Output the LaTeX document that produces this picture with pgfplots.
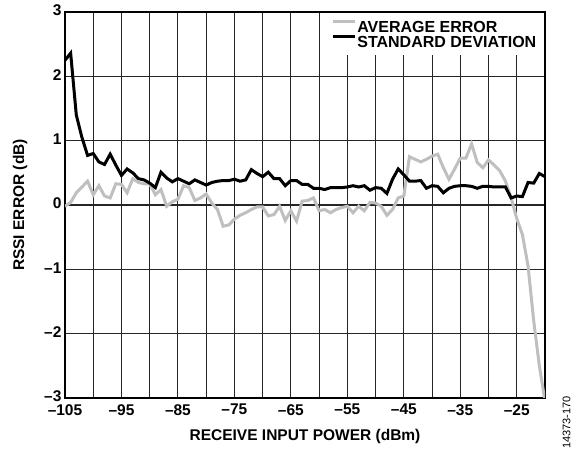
\documentclass[border=0pt]{standalone}
\usepackage{fontspec}
\setmainfont{Liberation Sans}
\usepackage{pgfplots}
\pgfplotsset{compat=1.18}
\definecolor{avgc}{RGB}{191,191,191}
\pgfplotstableread{
x y
-105 -0.02
-104 0.04
-103 0.19
-102 0.28
-101 0.37
-100 0.16
-99 0.30
-98 0.14
-97 0.11
-96 0.33
-95 0.32
-94 0.19
-93 0.41
-92 0.35
-91 0.33
-90 0.33
-89 0.16
-88 0.24
-87 -0.02
-86 0.05
-85 0.09
-84 0.30
-83 0.27
-82 0.07
-81 0.11
-80 0.17
-79 0.03
-78 -0.07
-77 -0.33
-76 -0.31
-75 -0.22
-74 -0.16
-73 -0.12
-72 -0.07
-71 -0.03
-70 -0.03
-69 -0.17
-68 -0.15
-67 -0.02
-66 -0.24
-65 -0.09
-64 -0.25
-63 0.06
-62 0.07
-61 0.11
-60 -0.09
-59 -0.07
-58 -0.12
-57 -0.07
-56 -0.04
-55 -0.02
-54 -0.12
-53 -0.02
-52 -0.09
-51 0.04
-50 0.03
-49 -0.02
-48 -0.16
-47 -0.07
-46 0.11
-45 0.14
-44 0.75
-43 0.71
-42 0.67
-41 0.71
-40 0.76
-39 0.79
-38 0.58
-37 0.40
-36 0.56
-35 0.73
-34 0.73
-33 0.95
-32 0.66
-31 0.58
-30 0.70
-29 0.62
-28 0.53
-27 0.37
-26 0.11
-25 -0.21
-24 -0.46
-23 -0.95
-22 -1.80
-21 -2.50
-20 -3.05
}\avgerr
\pgfplotstableread{
x y
-105 2.25
-104 2.36
-103 1.40
-102 1.05
-101 0.77
-100 0.80
-99 0.67
-98 0.63
-97 0.79
-96 0.62
-95 0.46
-94 0.56
-93 0.50
-92 0.41
-91 0.39
-90 0.34
-89 0.27
-88 0.51
-87 0.42
-86 0.36
-85 0.41
-84 0.37
-83 0.33
-82 0.39
-81 0.35
-80 0.31
-79 0.35
-78 0.37
-77 0.38
-76 0.38
-75 0.40
-74 0.37
-73 0.39
-72 0.55
-71 0.49
-70 0.44
-69 0.51
-68 0.41
-67 0.41
-66 0.30
-65 0.38
-64 0.38
-63 0.32
-62 0.32
-61 0.26
-60 0.26
-59 0.24
-58 0.27
-57 0.27
-56 0.27
-55 0.28
-54 0.30
-53 0.28
-52 0.30
-51 0.23
-50 0.27
-49 0.26
-48 0.18
-47 0.40
-46 0.56
-45 0.47
-44 0.37
-43 0.37
-42 0.38
-41 0.26
-40 0.30
-39 0.29
-38 0.19
-37 0.26
-36 0.29
-35 0.30
-34 0.30
-33 0.29
-32 0.26
-31 0.29
-30 0.29
-29 0.28
-28 0.28
-27 0.28
-26 0.11
-25 0.14
-24 0.13
-23 0.35
-22 0.34
-21 0.49
-20 0.44
}\stddev
\begin{document}
\begin{tikzpicture}
\useasboundingbox (0,0) rectangle (574bp,452bp);
\begin{axis}[
  at={(65bp,54bp)}, anchor=south west,
  scale only axis, width=480bp, height=386bp,
  xmin=-105, xmax=-20, ymin=-3, ymax=3,
  xtick={-105,-100,...,-20},
  xticklabels={–105,,–95,,–85,,–75,,–65,,–55,,–45,,–35,,–25,},
  ytick={-3,-2,-1,0,1,2,3},
  yticklabels={–3,–2,–1,0,1,2,3},
  grid=major,
  major grid style={black!85, line width=1.1bp},
  major tick length=0pt,
  axis line style={line width=1.7bp},
  tick label style={font=\fontsize{15.5bp}{17bp}\selectfont\bfseries},
  xticklabel style={yshift=-5bp, inner ysep=1bp},
  yticklabel style={yshift=1.5bp, inner ysep=1bp},
  label style={font=\fontsize{15.5bp}{17bp}\selectfont\bfseries},
  xlabel={RECEIVE INPUT POWER (dBm)},
  ylabel={RSSI ERROR (dB)},
  xlabel shift=10bp,
  ylabel shift=10bp,
  legend style={at={(1,1)}, anchor=north east, xshift=-4bp, yshift=-1bp,
    draw=none, fill=white, inner xsep=4bp, inner ysep=7bp,
    font=\fontsize{16bp}{17bp}\selectfont\bfseries,
    nodes={inner xsep=0.5bp, inner ysep=0pt, text height=11.5bp, text depth=0pt},
    row sep=2bp, cells={anchor=west},
    /tikz/every even column/.append style={column sep=0pt}},
  legend image code/.code={\draw[#1, line width=3bp] (0bp,5.5bp) -- (22bp,5.5bp);},
  legend cell align=left,
]
\addplot[avgc, line width=3bp] table {\avgerr};
\addlegendentry{AVERAGE ERROR}
\addplot[black, line width=3bp] table {\stddev};
\addlegendentry{STANDARD DEVIATION}
\end{axis}
\node[rotate=90, anchor=west, inner sep=0pt, font=\fontsize{11bp}{12bp}\selectfont] at (566.5bp,3bp) {14373-170};
\end{tikzpicture}
\end{document}
